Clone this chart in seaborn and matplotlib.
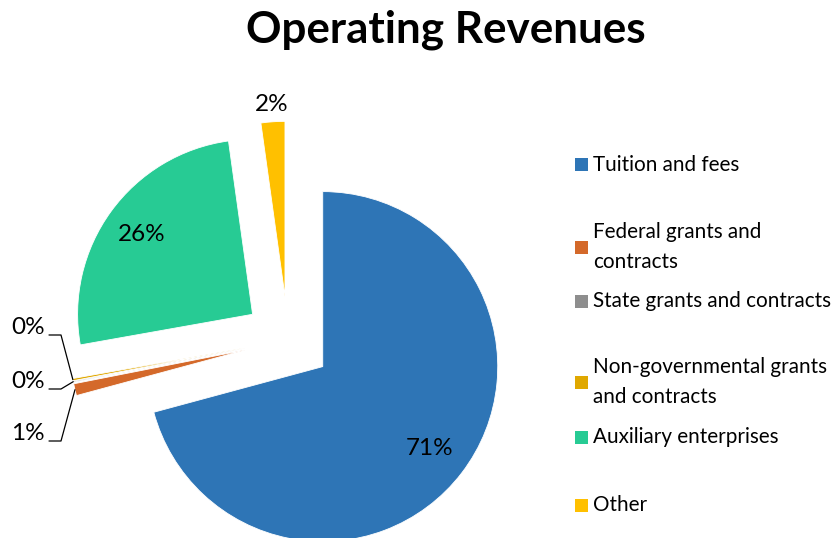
import matplotlib
matplotlib.use('Agg')
import matplotlib.pyplot as plt
from matplotlib.patches import Rectangle
import seaborn as sns
import numpy as np

# data
categories = ['Tuition and fees', 'Federal grants and\ncontracts', 'State grants and contracts',
              'Non-governmental grants\nand contracts', 'Auxiliary enterprises', 'Other']
values = [70.8, 1.1, 0.1, 0.2, 25.6, 2.2]
colors = ['#2E75B6', '#D4692A', '#8E8E8E', '#E0A800', '#27CB94', '#FFC000']

sns.set_theme(style='white')
plt.rcParams['font.family'] = ['Lato', 'DejaVu Sans']
plt.rcParams['text.color'] = 'black'

W, H = 833, 538
fig = plt.figure(figsize=(W / 100, H / 100), dpi=100)
ax = fig.add_axes([0, 0, 1, 1])

# pixel layout of the pie (centre of the unexploded pie, radius in px)
cx, cy, scale = 288, 340, 175

def px2data(px, py):
    return (px - cx) / scale, (cy - py) / scale

wedges, _ = ax.pie(values, explode=[0.25] * len(values), startangle=90, counterclock=False,
                   colors=colors, radius=1,
                   wedgeprops=dict(edgecolor='white', linewidth=0.6))
ax.set_aspect('auto')
ax.set_xlim(-cx / scale, (W - cx) / scale)
ax.set_ylim(-(H - cy) / scale, cy / scale)
ax.axis('off')

pcts = ['{:.0f}%'.format(round(v)) for v in values]

# inside / near labels
label_dist = {0: 0.77, 4: 0.78, 5: 1.1}
for i, d in label_dist.items():
    w = wedges[i]
    a = np.radians((w.theta1 + w.theta2) / 2)
    x0, y0 = w.center
    ax.text(x0 + d * np.cos(a), y0 + d * np.sin(a), pcts[i], ha='center', va='center',
            fontsize=17.5)

# small slices with leader lines
small = {3: 327, 2: 381, 1: 433}
for i, ly in small.items():
    w = wedges[i]
    a = np.radians((w.theta1 + w.theta2) / 2)
    x0, y0 = w.center
    ex, ey = x0 + np.cos(a), y0 + np.sin(a)
    tx, ty = px2data(45, ly)
    ax.text(tx, ty, pcts[i], ha='right', va='center', fontsize=17.5)
    l1 = px2data(49, ly + 8)
    l2 = px2data(61, ly + 8)
    ax.plot([l1[0], l2[0], ex], [l1[1], l2[1], ey], color='black', lw=0.9)

fig.text(446 / W, 1 - 30 / H, 'Operating Revenues', ha='center', va='center',
         fontsize=31.7, fontweight='bold')

# legend (Excel spreads the entries unevenly)
leg_y = [165, 247, 301, 382, 437, 505]
for lab, c, y in zip(categories, colors, leg_y):
    fig.add_artist(Rectangle((575 / W, 1 - (y + 6.5) / H), 13 / W, 13 / H,
                             transform=fig.transFigure, color=c, lw=0))
    fig.text(593 / W, 1 - y / H, lab, ha='left', va='center', fontsize=14.9,
             linespacing=1.59)

fig.savefig('out.png', dpi=100)
